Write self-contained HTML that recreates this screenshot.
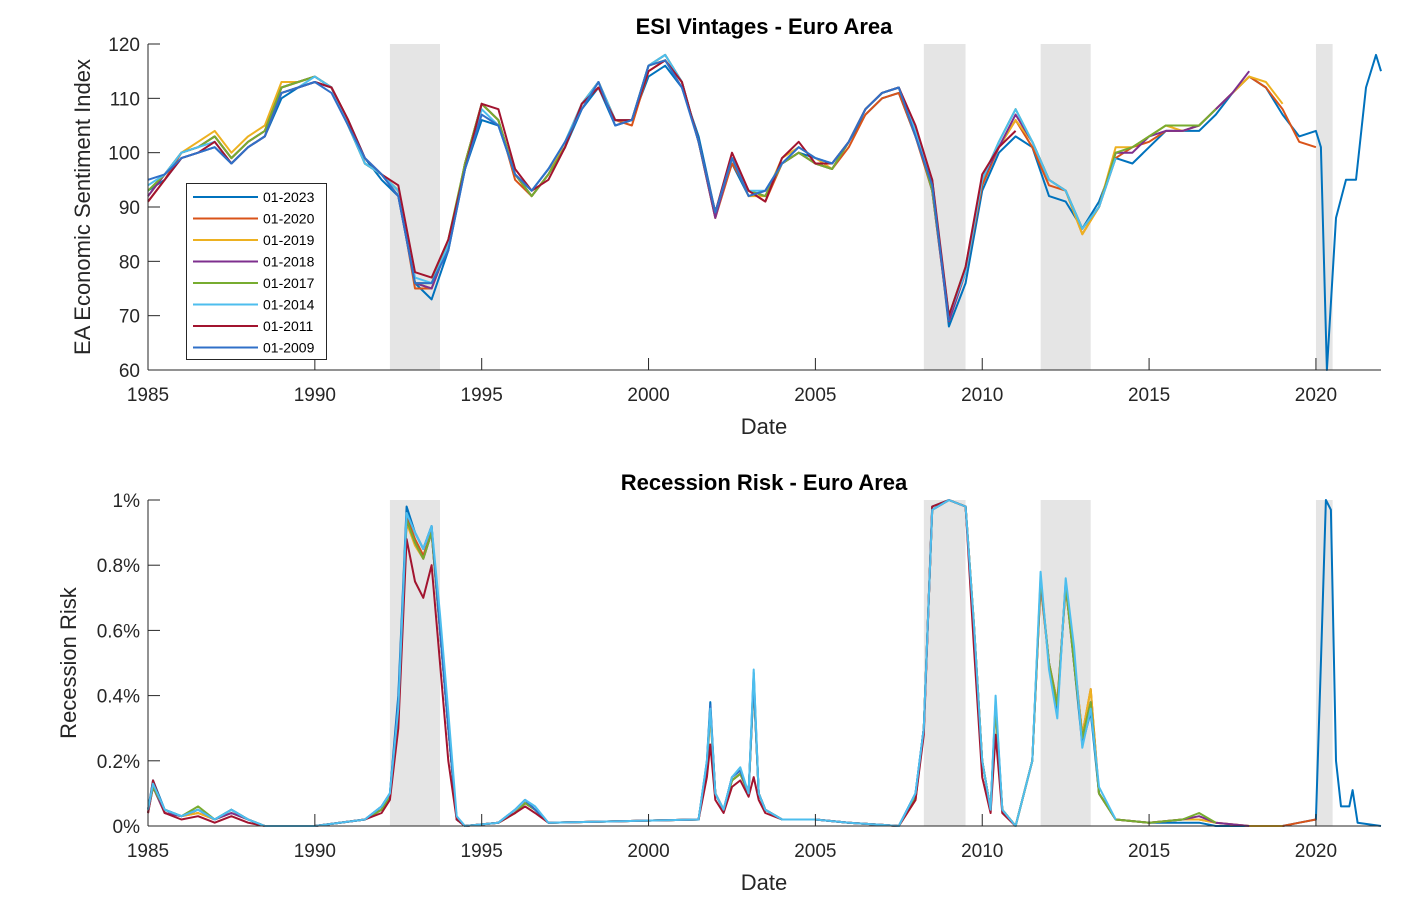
<!DOCTYPE html>
<html><head><meta charset="utf-8">
<style>
html,body{margin:0;padding:0;background:#fff;}
svg{display:block;font-family:"Liberation Sans",Arial,sans-serif;}
</style></head>
<body>
<svg id="chart" width="1418" height="906" viewBox="0 0 1418 906"></svg>
<script>
// ---- data ----
const vintageNames = ["01-2023","01-2020","01-2019","01-2018","01-2017","01-2014","01-2011","01-2009"];
const vintageColors = ["#0072BD","#D95319","#EDB120","#7E2F8E","#77AC30","#4DBEEE","#A2142F","#3070C8"];
const recessions = [[1992.25,1993.75],[2008.25,2009.5],[2011.75,2013.25],[2020.0,2020.5]];
const xTicks = [1985,1990,1995,2000,2005,2010,2015,2020];
const esiTicks = [60,70,80,90,100,110,120];
const riskTicks = [0,0.2,0.4,0.6,0.8,1];
const riskTickLabels = ["0%","0.2%","0.4%","0.6%","0.8%","1%"];

const esiTail = [2020.15,2020.33,2020.6,2020.9,2021.2,2021.5,2021.8,2021.95];
const esiTailVals = [101,60,88,95,95,112,118,115];
const esi2023 = [93,95,99,100,101,98,101,103,110,112,113,112,106,99,95,92,76,73,82,97,106,105,96,93,97,101,108,112,105,106,114,116,112,103,89,98,92,93,98,100,99,98,102,107,110,111,103,95,68,76,93,100,103,101,92,91,86,91,99,98,101,104,104,104,107,111,114,112,107,103,104];
const esi2020 = [91,95,100,101,103,99,102,104,112,113,114,112,106,98,96,93,75,75,83,98,109,106,95,92,96,101,109,112,106,105,115,117,113,102,88,98,93,91,98,100,98,97,101,107,110,111,103,93,69,78,94,101,106,101,94,93,85,90,99,101,102,104,104,105,108,111,114,112,108,102,101];
const esi2019 = [92,96,100,102,104,100,103,105,113,113,114,112,105,98,96,93,76,75,83,98,109,106,96,92,96,102,109,113,106,106,116,117,113,102,88,99,92,92,99,101,99,97,102,108,111,112,104,94,69,78,95,101,106,102,95,93,85,90,101,101,103,105,104,105,108,111,114,113,109];
const esi2018 = [92,96,100,101,103,99,102,104,112,113,114,112,105,98,96,92,76,75,83,98,109,106,96,92,96,101,109,113,106,106,116,118,113,102,88,99,93,92,98,100,98,97,102,108,111,112,104,93,69,78,95,101,107,102,95,93,86,90,100,100,103,104,104,105,108,111,115];
const esi2017 = [93,96,100,101,103,99,102,104,112,113,114,112,105,98,96,93,76,76,84,98,109,106,96,92,96,101,109,113,106,106,116,118,113,102,89,99,93,92,98,100,98,97,102,108,111,112,104,93,70,79,95,102,108,102,95,93,86,90,100,101,103,105,105,105,108];
const esi2014 = [94,96,100,101,102,98,101,103,111,112,114,112,105,98,96,93,77,76,83,97,108,105,96,93,97,102,109,113,106,106,116,118,113,102,89,99,93,93,98,101,99,98,102,108,111,112,104,94,70,78,95,102,108,102,95,93,86,90,99];
const esi2011 = [91,95,99,100,102,98,101,103,111,112,113,112,106,99,96,94,78,77,84,97,109,108,97,93,95,101,109,112,106,106,115,117,113,102,89,100,93,91,99,102,98,98,102,108,111,112,105,95,70,79,96,101,104];
const esi2009 = [95,96,99,100,101,98,101,103,111,112,113,111,105,99,96,92,76,76,82,97,107,105,96,93,97,102,108,113,105,106,116,117,112,102,89,99,92,93,98,101,99,98,102,108,111,112,103,94,69];

const riskDates = [1985.0,1985.15,1985.5,1986.0,1986.5,1987.0,1987.5,1988.0,1988.5,1990.0,1991.5,1992.0,1992.25,1992.5,1992.75,1993.0,1993.25,1993.5,1993.75,1994.0,1994.25,1994.5,1995.5,1996.0,1996.3,1996.6,1997.0,2001.5,2001.75,2001.85,2002.0,2002.25,2002.5,2002.75,2003.0,2003.15,2003.3,2003.5,2004.0,2005.0,2006.0,2007.5,2008.0,2008.25,2008.5,2009.0,2009.5,2009.75,2010.0,2010.25,2010.4,2010.6,2011.0,2011.5,2011.75,2012.0,2012.25,2012.5,2012.75,2013.0,2013.25,2013.5,2014.0,2015.0,2016.0,2016.5,2017.0,2018.0,2019.0,2019.5,2020.0,2020.15,2020.3,2020.45,2020.6,2020.75,2021.0,2021.1,2021.25,2021.95];
const risk2023 = [.05,.14,.05,.03,.05,.02,.05,.02,0,0,.02,.06,.1,.4,.98,.9,.85,.92,.6,.3,.02,0,.01,.05,.08,.05,.01,.02,.2,.38,.1,.05,.15,.17,.1,.47,.1,.05,.02,.02,.01,0,.1,.3,.98,1,.98,.6,.2,.05,.38,.05,0,.2,.75,.5,.35,.75,.5,.25,.35,.1,.02,.01,.01,.01,0,0,0,.01,.02,.5,1,.97,.2,.06,.06,.11,.01,0];
const risk2020 = [.04,.12,.04,.03,.04,.02,.04,.02,0,0,.02,.05,.09,.35,.95,.88,.83,.9,.6,.3,.02,0,.01,.04,.07,.05,.01,.02,.18,.35,.1,.05,.14,.16,.1,.45,.1,.05,.02,.02,.01,0,.08,.3,.97,1,.98,.62,.2,.05,.36,.05,0,.2,.74,.5,.38,.73,.52,.28,.42,.1,.02,.01,.02,.02,.01,0,0,.01,.02];
const risk2019 = [.04,.12,.04,.03,.04,.02,.04,.02,0,0,.02,.05,.09,.33,.93,.86,.82,.9,.6,.3,.02,0,.01,.04,.07,.05,.01,.02,.18,.34,.1,.05,.14,.16,.1,.44,.1,.05,.02,.02,.01,0,.08,.3,.97,1,.98,.62,.2,.05,.36,.05,0,.2,.74,.5,.38,.73,.52,.28,.42,.1,.02,.01,.02,.02,.01,0,0];
const risk2018 = [.04,.12,.04,.03,.05,.02,.04,.02,0,0,.02,.05,.09,.34,.94,.87,.82,.9,.6,.3,.02,0,.01,.04,.07,.05,.01,.02,.19,.36,.1,.05,.14,.16,.1,.44,.1,.05,.02,.02,.01,0,.09,.3,.97,1,.98,.62,.2,.05,.37,.05,0,.2,.75,.5,.37,.74,.5,.27,.38,.1,.02,.01,.02,.03,.01,0];
const risk2017 = [.05,.12,.05,.03,.06,.02,.05,.02,0,0,.02,.05,.09,.34,.94,.87,.82,.9,.6,.3,.02,0,.01,.04,.07,.05,.01,.02,.19,.36,.1,.05,.14,.16,.1,.44,.1,.05,.02,.02,.01,0,.09,.3,.97,1,.98,.62,.2,.05,.37,.05,0,.2,.76,.5,.37,.74,.5,.27,.38,.1,.02,.01,.02,.04,.01];
const risk2014 = [.05,.13,.05,.03,.05,.02,.05,.02,0,0,.02,.06,.1,.36,.96,.9,.85,.92,.65,.35,.03,0,.01,.05,.08,.06,.01,.02,.2,.36,.1,.05,.15,.18,.1,.48,.1,.05,.02,.02,.01,0,.1,.3,.97,1,.98,.62,.2,.05,.4,.05,0,.2,.78,.48,.33,.76,.55,.24,.36,.12,.02];
const risk2011 = [.04,.14,.04,.02,.03,.01,.03,.01,0,0,.02,.04,.08,.3,.88,.75,.7,.8,.5,.2,.02,0,.01,.04,.06,.04,.01,.02,.15,.25,.08,.04,.12,.14,.09,.15,.08,.04,.02,.02,.01,0,.08,.28,.98,1,.98,.55,.15,.04,.28,.04,0];
const risk2009 = [.05,.13,.05,.03,.05,.02,.05,.02,0,0,.02,.06,.1,.38,.96,.9,.85,.92,.6,.3,.02,0,.01,.05,.08,.05,.01,.02,.19,.37,.1,.05,.15,.17,.1,.45,.1,.05,.02,.02,.01,0,.1,.3,.97,1];

// ---- layout ----
const NS = "http://www.w3.org/2000/svg";
const svg = document.getElementById("chart");
const X0 = 148, X1 = 1381, XMIN = 1985, XMAX = 2021.95;
const xScale = d => X0 + (d - XMIN) / (XMAX - XMIN) * (X1 - X0);
const topAx = {y0:370, y1:44, min:60, max:120};
const botAx = {y0:826, y1:500, min:0, max:1};
const yScale = (ax, v) => ax.y0 - (v - ax.min) / (ax.max - ax.min) * (ax.y0 - ax.y1);

function el(tag, attrs, parent) {
  const e = document.createElementNS(NS, tag);
  for (const k in attrs) e.setAttribute(k, attrs[k]);
  (parent || svg).appendChild(e);
  return e;
}

function drawShades(ax, name) {
  const g = el("g", {});
  
  
  recessions.forEach(r => {
    const rr = el("rect", {x:xScale(r[0]), y:ax.y1, width:xScale(r[1])-xScale(r[0]), height:ax.y0-ax.y1, fill:"#e5e5e5"}, g);
    
    
  });
}

function drawFrame(ax, name, title, ylabel, ticks, tickLabels, titleY, ylabelX) {
  const g = el("g", {});
  
  
  el("line", {x1:X0, y1:ax.y0, x2:X1, y2:ax.y0, stroke:"#262626", "stroke-width":1}, g);
  el("line", {x1:X0, y1:ax.y0, x2:X0, y2:ax.y1, stroke:"#262626", "stroke-width":1}, g);
  xTicks.forEach(t => {
    const x = xScale(t);
    el("line", {x1:x, y1:ax.y0, x2:x, y2:ax.y0-12, stroke:"#262626"}, g);
    const tx = el("text", {x:x, y:ax.y0+31, "text-anchor":"middle", "font-size":19, fill:"#262626"}, g);
    tx.textContent = t;
    
    
  });
  ticks.forEach((t, i) => {
    const y = yScale(ax, t);
    el("line", {x1:X0, y1:y, x2:X0+12, y2:y, stroke:"#262626"}, g);
    const tx = el("text", {x:X0-8, y:y+7, "text-anchor":"end", "font-size":19, fill:"#262626"}, g);
    tx.textContent = tickLabels[i];
    
    
  });
  const tt = el("text", {x:764, y:titleY, "text-anchor":"middle", "font-size":22, "font-weight":"bold", fill:"#000"}, g);
  tt.textContent = title;
  
  
  const xl = el("text", {x:764, y:ax.y0+64, "text-anchor":"middle", "font-size":22, fill:"#262626"}, g);
  xl.textContent = "Date";
  
  
  const cy = (ax.y0 + ax.y1) / 2;
  const yl = el("text", {x:ylabelX, y:cy, "text-anchor":"middle", "font-size":22, fill:"#262626", transform:`rotate(-90 ${ylabelX} ${cy})`}, g);
  yl.textContent = ylabel;
  
  
}

function drawSeries(ax, dates, vals, color, name) {
  const pts = vals.map((v, i) => xScale(dates[i]).toFixed(1) + "," + yScale(ax, v).toFixed(1)).join(" ");
  const p = el("polyline", {points:pts, fill:"none", stroke:color, "stroke-width":2, "stroke-linejoin":"round"});
  
  
}

// ---- top chart ----
drawShades(topAx, "esi-recession-shading");
const halfGrid = esi2023.map((_, i) => 1985 + i * 0.5);
const esiDates = halfGrid.concat(esiTail);
const esiSeries = [esi2023.concat(esiTailVals), esi2020, esi2019, esi2018, esi2017, esi2014, esi2011, esi2009];
esiSeries.forEach((s, k) => drawSeries(topAx, esiDates, s, vintageColors[k], 'esi-line-' + vintageNames[k]));
drawFrame(topAx, "esi", "ESI Vintages - Euro Area", "EA Economic Sentiment Index", esiTicks, esiTicks.map(String), 34, 90);

// legend
const lg = el("g", {});


el("rect", {x:186.5, y:183.5, width:140, height:176, fill:"#fff", stroke:"#262626", "stroke-width":1}, lg);
vintageNames.forEach((n, k) => {
  const y = 197 + k * 21.5;
  const ln = el("line", {x1:193, y1:y, x2:258, y2:y, stroke:vintageColors[k], "stroke-width":2}, lg);
  
  
  const t = el("text", {x:263, y:y+5, "font-size":14, fill:"#000"}, lg);
  t.textContent = n;
  
  
});

// ---- bottom chart ----
drawShades(botAx, "risk-recession-shading");
const riskSeries = [risk2023, risk2020, risk2019, risk2018, risk2017, risk2014, risk2011, risk2009];
const order = [0,1,2,3,4,7,6,5];
order.forEach(k => drawSeries(botAx, riskDates, riskSeries[k], vintageColors[k], 'risk-line-' + vintageNames[k]));
drawFrame(botAx, "risk", "Recession Risk - Euro Area", "Recession Risk", riskTicks, riskTickLabels, 490, 76);
</script>
</body></html>
